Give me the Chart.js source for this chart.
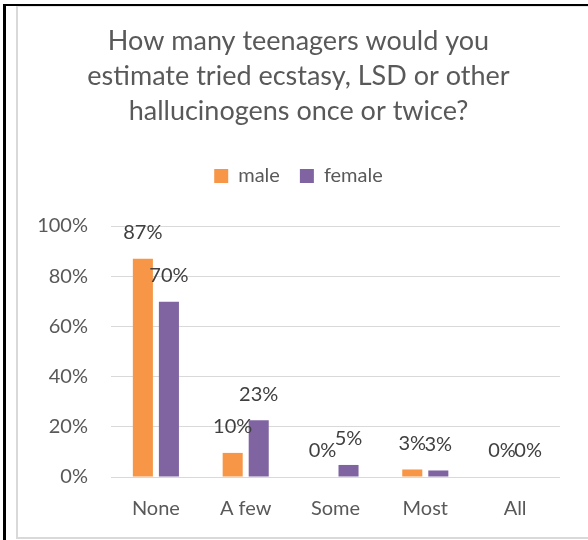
<!DOCTYPE html>
<html>
<head>
<meta charset="utf-8">
<script src="https://cdn.jsdelivr.net/npm/chart.js@4/dist/chart.umd.min.js"></script>
<style>
  body { margin: 0; background: #fff; }
  #wrap { position: relative; width: 588px; height: 540px; overflow: hidden; }
  #chart { position: absolute; left: 0; top: 0; }
  .frame-outer { position: absolute; left: 3px; top: 4px; width: 600px; height: 600px;
    border-left: 3px solid #000; border-top: 2px solid #000; }
  .frame-inner { position: absolute; left: 16px; top: 6px; width: 600px; height: 530px;
    border-left: 2px solid #d9d9d9; border-top: 1px solid #e6e6e6; border-bottom: 2px solid #d9d9d9; }
</style>
</head>
<body>
<div id="wrap">
  <div class="frame-outer"></div>
  <div class="frame-inner"></div>
  <canvas id="chart" width="588" height="540"></canvas>
</div>
<script>
const titleLines = ["How many teenagers would you", "estimate tried ecstasy, LSD or other", "hallucinogens once or twice?"];
const categories = ["None", "A few", "Some", "Most", "All"];
const maleValues = [87, 9.6, 0, 3, 0];
const femaleValues = [69.8, 22.6, 4.8, 2.6, 0];
const yTicks = [0, 20, 40, 60, 80, 100];

const FONT = "Lato, 'Open Sans', sans-serif";
const axisGray = "#595959";

// Excel-style value labels sitting above each bar
const barLabels = {
  id: "barLabels",
  afterDatasetsDraw(chart) {
    const ctx = chart.ctx;
    ctx.save();
    ctx.font = "20px " + FONT;
    ctx.fillStyle = "#404040";
    ctx.textAlign = "center";
    ctx.textBaseline = "middle";
    chart.data.datasets.forEach((ds, i) => {
      chart.getDatasetMeta(i).data.forEach((bar, j) => {
        ctx.fillText(Math.round(ds.data[j]) + "%", bar.x, bar.y - 26);
      });
    });
    ctx.restore();
  }
};

// extra room between the legend and the plot
const legendGap = {
  id: "legendGap",
  beforeInit(chart) {
    const fit = chart.legend.fit;
    chart.legend.fit = function () {
      fit.bind(chart.legend)();
      this.height += 30;
    };
  }
};

new Chart(document.getElementById("chart"), {
  type: "bar",
  data: {
    labels: categories,
    datasets: [
      { label: "male", data: maleValues, backgroundColor: "#F79646" },
      { label: "female", data: femaleValues, backgroundColor: "#8064A2" }
    ]
  },
  options: {
    responsive: false,
    animation: false,
    categoryPercentage: 0.58,
    barPercentage: 0.77,
    layout: { padding: { left: 37, right: 28, top: 4, bottom: 7 } },
    plugins: {
      title: {
        display: true,
        text: titleLines,
        color: axisGray,
        font: { family: FONT, size: 27, weight: "normal", lineHeight: 35 / 27 },
        padding: { top: 20, bottom: 17 }
      },
      legend: {
        display: true,
        labels: {
          color: axisGray,
          font: { family: FONT, size: 20 },
          boxWidth: 14,
          boxHeight: 14,
          padding: 20
        }
      },
      tooltip: { enabled: false }
    },
    scales: {
      x: {
        grid: { display: false },
        border: { display: false },
        ticks: { color: axisGray, font: { family: FONT, size: 20 }, padding: 12 }
      },
      y: {
        min: 0,
        max: 100,
        afterBuildTicks: axis => { axis.ticks = yTicks.map(v => ({ value: v })); },
        afterFit: axis => { axis.width = 74; },
        grid: { color: "#d9d9d9", lineWidth: 1, drawTicks: false },
        border: { display: false },
        ticks: {
          color: axisGray,
          font: { family: FONT, size: 20 },
          padding: 23,
          callback: v => v + "%"
        }
      }
    }
  },
  plugins: [barLabels, legendGap]
});
</script>
</body>
</html>
